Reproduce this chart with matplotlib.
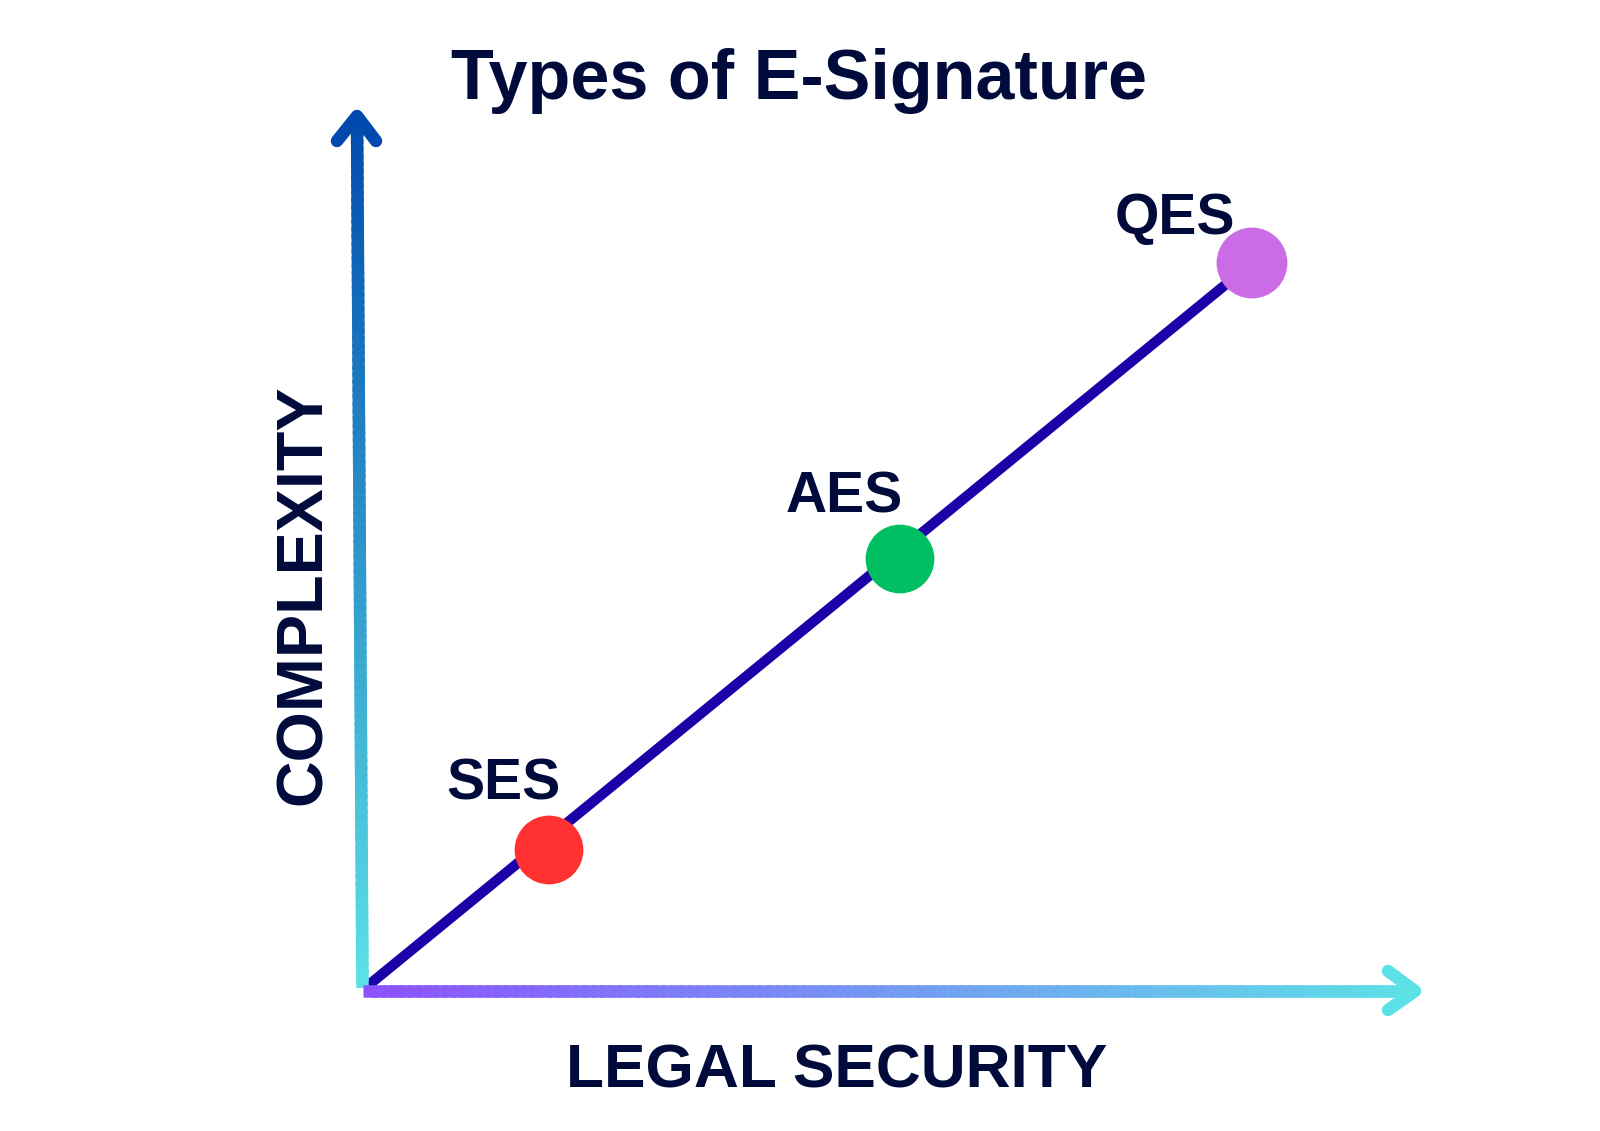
import numpy as np
import matplotlib
matplotlib.use("Agg")
import matplotlib.pyplot as plt
from matplotlib.collections import LineCollection
from matplotlib.colors import LinearSegmentedColormap

# signature types, positioned by legal security (x) and complexity (y)
sig_types = ["SES", "AES", "QES"]
legal_security = [1.87, 5.38, 8.90]
complexity = [1.41, 4.32, 7.28]
point_colors = ["#ff3131", "#00bf63", "#cb6ce6"]

text_color = "#000b3b"
line_color = "#1a02a8"

fig = plt.figure(figsize=(16, 11.31), dpi=100)
ax = fig.add_axes([0, 0, 1, 1])
ax.set_xlim(-3.62, 12.38)
ax.set_ylim(-1.40, 9.91)
ax.axis("off")


def gradient_line(x0, y0, x1, y1, c0, c1, lw, n=120):
    t = np.linspace(0, 1, n + 1)
    # each piece runs a little into the next one so no seams show
    t_end = np.minimum(t[1:] + 0.6 / n, 1.0)
    t0 = t[:-1]
    segs = np.stack([
        np.column_stack([x0 + (x1 - x0) * t0, y0 + (y1 - y0) * t0]),
        np.column_stack([x0 + (x1 - x0) * t_end, y0 + (y1 - y0) * t_end]),
    ], axis=1)
    cmap = LinearSegmentedColormap.from_list("g", [c0, c1])
    lc = LineCollection(segs, colors=cmap(t0), linewidths=lw,
                        capstyle="butt", zorder=3)
    ax.add_collection(lc)


# trend line from origin to the last point
ax.plot([0.03, legal_security[-1]], [0.03, complexity[-1]], color=line_color,
        lw=7.4, solid_capstyle="butt", zorder=2)

# y axis arrow
gradient_line(0.005, 0.03, -0.05, 8.76, "#5ce1e6", "#004aad", 9)
ax.plot([-0.25, -0.05, 0.14], [8.50, 8.75, 8.50], color="#004aad", lw=9,
        solid_capstyle="round", solid_joinstyle="round", zorder=3)

# x axis arrow
gradient_line(0.01, 0.0, 10.52, 0.0, "#8c52ff", "#5ce1e6", 9)
ax.plot([10.26, 10.53, 10.26], [0.20, 0.0, -0.19], color="#5ce1e6", lw=9,
        solid_capstyle="round", solid_joinstyle="round", zorder=3)

# points
ax.scatter(legal_security, complexity, s=[49.5**2, 49.5**2, 51**2],
           c=point_colors, linewidths=0, zorder=4)

label_offsets = [(-46, 50), (-56, 47), (-77, 29)]
for name, x, y, off in zip(sig_types, legal_security, complexity, label_offsets):
    ax.annotate(name, (x, y), xytext=(off[0] * 0.72, off[1] * 0.72),
                textcoords="offset points", ha="center", va="baseline",
                fontsize=41, fontweight="bold", color=text_color,
                family=["Liberation Sans", "DejaVu Sans"])

fig.text(799 / 1600, 1 - 99 / 1131, "Types of E-Signature", ha="center",
         va="baseline", fontsize=50.5, fontweight="bold", color=text_color,
         family=["Liberation Sans Narrow", "Liberation Sans"])

fig.text(837 / 1600, 1 - 1088 / 1131, "LEGAL SECURITY", ha="center",
         va="baseline", fontsize=44.8, fontweight="bold", color=text_color,
         family=["Liberation Sans", "DejaVu Sans"])

fig.text(321 / 1600, 1 - 595 / 1131, "COMPLEXITY", ha="center",
         va="baseline", rotation=90, rotation_mode="anchor", fontsize=46.5,
         fontweight="bold", color=text_color,
         family=["Liberation Sans", "DejaVu Sans"])

fig.savefig("out.png", dpi=100, facecolor="white")
